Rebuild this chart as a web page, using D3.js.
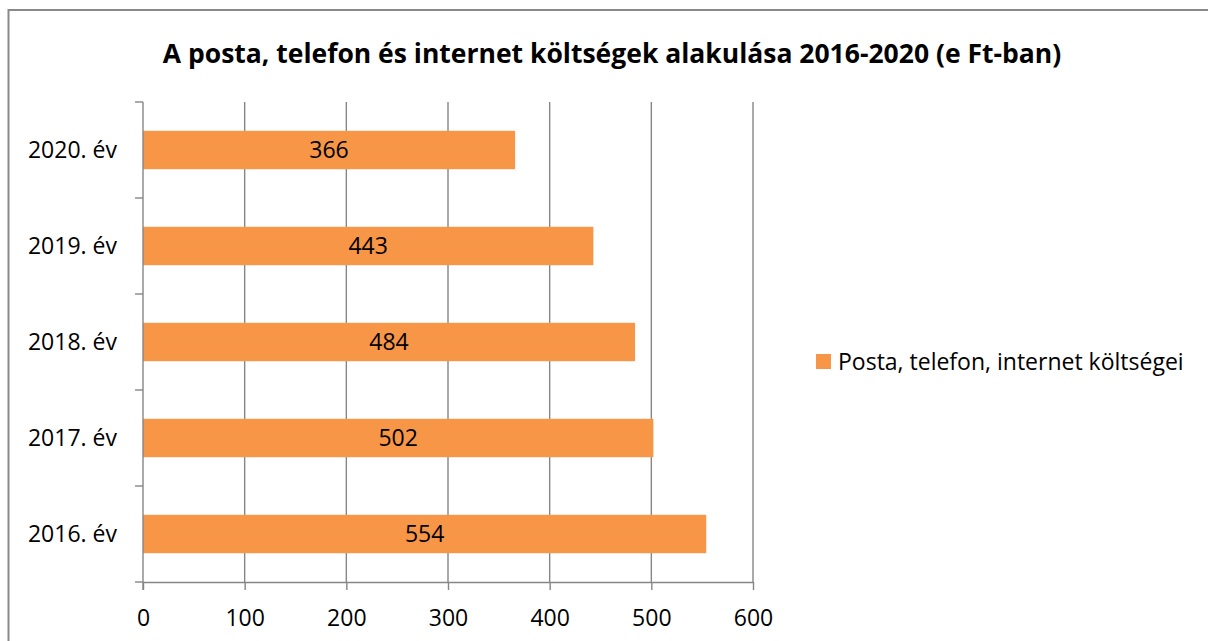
<!DOCTYPE html>
<html>
<head>
<meta charset="utf-8">
<script src="https://cdn.jsdelivr.net/npm/d3@7"></script>
<style>
  body { margin: 0; background: #fff; }
  text { font-family: "Open Sans", "Liberation Sans", sans-serif; fill: #000; }
</style>
</head>
<body>
<div id="chart"></div>
<script>
var years = ["2016. év", "2017. év", "2018. év", "2019. év", "2020. év"];
var costs = [554, 502, 484, 443, 366];
var xTicks = [0, 100, 200, 300, 400, 500, 600];
var seriesName = "Posta, telefon, internet költségei";
var title = "A posta, telefon és internet költségek alakulása 2016-2020 (e Ft-ban)";

var width = 1208, height = 641;
var svg = d3.select("#chart").append("svg")
    .attr("width", width)
    .attr("height", height);

// outer frame (right and bottom edges fall outside the picture)
svg.append("rect")
    .attr("x", 8.5).attr("y", 10)
    .attr("width", 1210).attr("height", 700)
    .attr("fill", "none")
    .attr("stroke", "#898989")
    .attr("stroke-width", 2);

svg.append("text")
    .attr("x", 612).attr("y", 63)
    .attr("text-anchor", "middle")
    .style("font-size", "26.5px")
    .style("font-weight", "bold")
    .text(title);

var plotLeft = 143, plotRight = 753, plotTop = 102, plotBottom = 582;
var fs = "23px";

var x = d3.scaleLinear().domain([0, 600]).range([plotLeft, plotRight]);
var y = d3.scaleBand().domain(years).range([plotBottom, plotTop]).paddingInner(0.6).paddingOuter(0.3);

var grid = "#868686";

// vertical gridlines
svg.append("g").selectAll("line")
    .data(xTicks.slice(1))
    .enter().append("line")
    .attr("x1", d => x(d)).attr("x2", d => x(d))
    .attr("y1", plotTop).attr("y2", plotBottom)
    .attr("stroke", grid).attr("stroke-width", 1.4);

// bars
svg.append("g").selectAll("rect")
    .data(costs)
    .enter().append("rect")
    .attr("x", x(0))
    .attr("y", (d, i) => y(years[i]))
    .attr("width", d => x(d) - x(0))
    .attr("height", y.bandwidth())
    .attr("fill", "#f79646");

// value labels
svg.append("g").selectAll("text")
    .data(costs)
    .enter().append("text")
    .attr("x", d => (x(0) + x(d)) / 2)
    .attr("y", (d, i) => y(years[i]) + y.bandwidth() / 2)
    .attr("dy", "0.36em")
    .attr("text-anchor", "middle")
    .style("font-size", fs)
    .text(d => d);

// x axis
var xAxis = svg.append("g")
    .attr("transform", "translate(0," + plotBottom + ")")
    .call(d3.axisBottom(x).tickValues(xTicks).tickSize(8).tickPadding(20).tickSizeOuter(0));
xAxis.select(".domain").attr("stroke", grid).attr("stroke-width", 1.4);
xAxis.selectAll(".tick line").attr("stroke", grid).attr("stroke-width", 1.4);
xAxis.selectAll("text").style("font-size", fs).attr("fill", "#000");

// y axis with ticks at band boundaries
var yTickPos = d3.range(years.length + 1).map(i => plotBottom - i * (plotBottom - plotTop) / years.length);
svg.append("line")
    .attr("x1", plotLeft).attr("x2", plotLeft)
    .attr("y1", plotTop).attr("y2", plotBottom + 8)
    .attr("stroke", grid).attr("stroke-width", 1.4);
svg.append("g").selectAll("line")
    .data(yTickPos)
    .enter().append("line")
    .attr("x1", plotLeft - 8).attr("x2", plotLeft)
    .attr("y1", d => d).attr("y2", d => d)
    .attr("stroke", grid).attr("stroke-width", 1.4);
svg.append("g").selectAll("text")
    .data(years)
    .enter().append("text")
    .attr("x", 117)
    .attr("y", d => y(d) + y.bandwidth() / 2)
    .attr("dy", "0.36em")
    .attr("text-anchor", "end")
    .style("font-size", fs)
    .text(d => d);

// legend
var legend = svg.append("g").attr("transform", "translate(816,354)");
legend.append("rect").attr("width", 15).attr("height", 15).attr("fill", "#f79646");
legend.append("text")
    .attr("x", 22).attr("y", 7.5).attr("dy", "0.36em")
    .style("font-size", fs)
    .text(seriesName);
</script>
</body>
</html>
